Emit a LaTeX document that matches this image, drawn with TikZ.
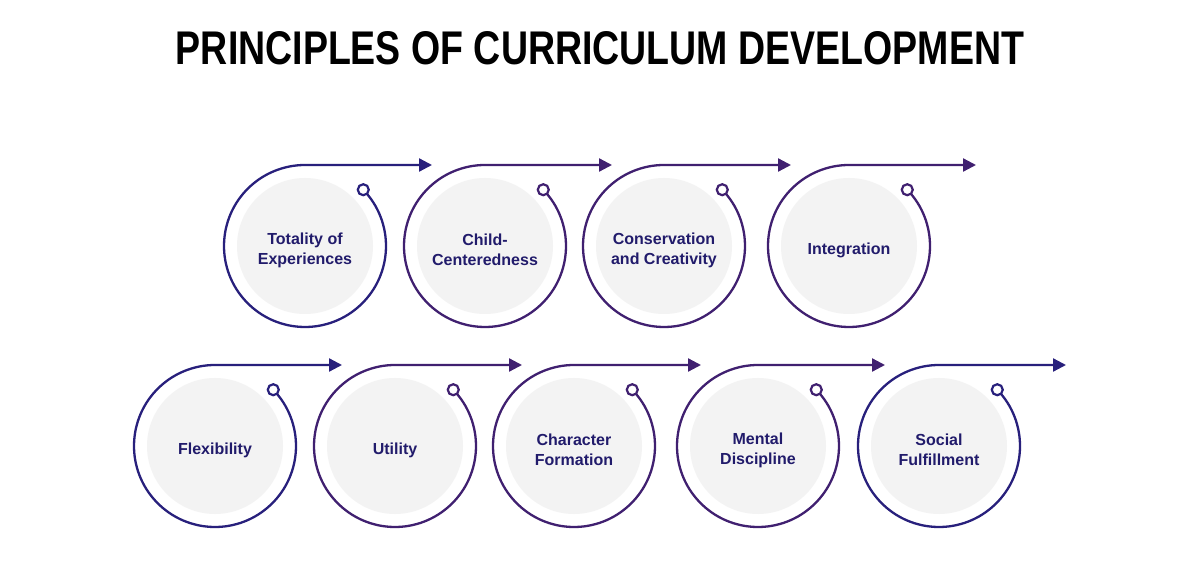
\documentclass[tikz,border=0pt]{standalone}
\usepackage{fontspec}
\setmainfont{Liberation Sans}
\usetikzlibrary{arrows.meta,calc}
\definecolor{navy}{RGB}{40,32,124}
\definecolor{plum}{RGB}{64,32,112}
\definecolor{txtnavy}{RGB}{33,27,107}
\definecolor{disk}{RGB}{243,243,243}
\begin{document}
\begin{tikzpicture}[x=1pt,y=1pt,
  disknode/.style={circle,fill=disk,minimum size=136pt,inner sep=0pt},
  labeltext/.style={align=center,font=\bfseries\fontsize{16}{20}\selectfont,text=txtnavy,inner sep=0pt},
  ringline/.style={line width=2.3pt,-{Triangle[length=13pt,width=13pt]}},
  endcap/.style={circle,draw,fill=white,line width=2.2pt,minimum size=11pt,inner sep=0pt}]
\useasboundingbox (0,0) rectangle (1200,560);
\fill[white] (0,0) rectangle (1200,560);
\node[font=\bfseries] (title) at (600,512) {\resizebox{848pt}{33pt}{PRINCIPLES OF CURRICULUM DEVELOPMENT}};
\foreach \n/\x/\y/\col/\txt in {
  c1/305/314/navy/{Totality of\\Experiences},
  c2/485/314/plum/{Child-\\Centeredness},
  c3/664/314/plum/{Conservation\\and Creativity},
  c4/849/314/plum/{Integration},
  c5/215/114/navy/{Flexibility},
  c6/395/114/plum/{Utility},
  c7/574/114/plum/{Character\\Formation},
  c8/758/114/plum/{Mental\\Discipline},
  c9/939/114/navy/{Social\\Fulfillment}}{
  \node[disknode] (\n) at (\x,\y) {};
  \node[labeltext] (\n-text) at ($(\n.center)+(0,-4)$) {\txt};
  \coordinate (\n-tip) at ($(\n.center)+(127,81)$);
  \draw[ringline,draw=\col] ($(\n.center)+(44:81)$) arc[start angle=44,end angle=-270,radius=81] -- (\n-tip);
  \node[endcap,draw=\col] (\n-end) at ($(\n.center)+(44:81)$) {};
}
\end{tikzpicture}
\end{document}
